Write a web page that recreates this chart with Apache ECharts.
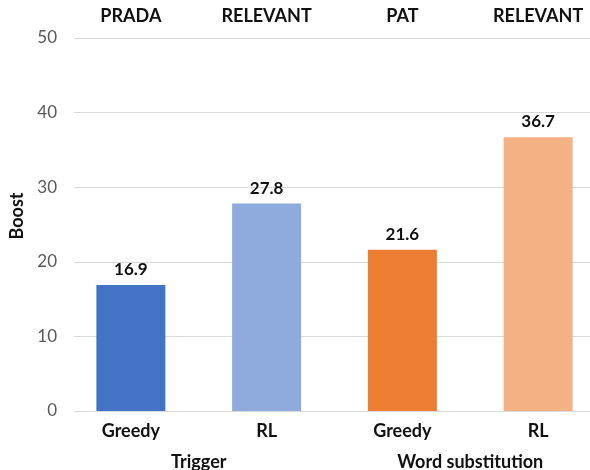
<!DOCTYPE html>
<html>
<head>
<meta charset="utf-8">
<script src="https://cdn.jsdelivr.net/npm/echarts@6/dist/echarts.min.js"></script>
<style>
  html, body { margin: 0; padding: 0; background: #fff; }
  #chart { width: 590px; height: 470px; }
</style>
</head>
<body>
<div id="chart"></div>
<script>
// Boost achieved by each search method, grouped by attack type
const methods = ['Greedy', 'RL', 'Greedy', 'RL'];
const systems = ['PRADA', 'RELEVANT', 'PAT', 'RELEVANT'];
const groups = ['Trigger', 'Word substitution'];
const boost = [16.9, 27.8, 21.6, 36.7];
const barColors = ['#4472C4', '#8FAADC', '#ED7D31', '#F4B183'];
const yTicks = { min: 0, max: 50, interval: 10 };

const FONT = 'Lato';
const chart = echarts.init(document.getElementById('chart'), null, { renderer: 'canvas' });

chart.setOption({
  animation: false,
  backgroundColor: '#ffffff',
  grid: [
    // bar area (category bands extend a little past the right edge)
    { left: 63, width: 543, top: 38, bottom: 59, outerBoundsMode: 'none', containLabel: false },
    // value axis and gridlines
    { left: 74, right: 0, top: 38, bottom: 59, outerBoundsMode: 'none', containLabel: false }
  ],
  xAxis: [
    {
      gridIndex: 0, type: 'category', data: methods, position: 'bottom',
      axisLine: { show: false }, axisTick: { show: false },
      axisLabel: { margin: 11, fontFamily: FONT, fontWeight: 'bold', fontSize: 18, color: '#111' }
    },
    {
      gridIndex: 0, type: 'category', data: systems, position: 'top',
      axisLine: { show: false }, axisTick: { show: false },
      axisLabel: { margin: 13, fontFamily: FONT, fontWeight: 'bold', fontSize: 18, color: '#111' }
    },
    {
      gridIndex: 0, type: 'category', data: groups, position: 'bottom',
      axisLine: { show: false }, axisTick: { show: false },
      axisLabel: { margin: 42, fontFamily: FONT, fontWeight: 'bold', fontSize: 18, color: '#111' }
    },
    {
      gridIndex: 1, type: 'category', data: methods, show: false
    }
  ],
  yAxis: [
    {
      gridIndex: 0, type: 'value', min: yTicks.min, max: yTicks.max, interval: yTicks.interval,
      show: false, splitLine: { show: false }
    },
    {
      gridIndex: 1, type: 'value', min: yTicks.min, max: yTicks.max, interval: yTicks.interval,
      axisLine: { show: false }, axisTick: { show: false },
      axisLabel: { margin: 17, fontFamily: FONT, fontSize: 17, color: '#595959' },
      splitLine: { lineStyle: { color: '#D9D9D9', width: 1 } }
    }
  ],
  graphic: [
    {
      type: 'text', x: 17, y: 216, rotation: Math.PI / 2,
      style: {
        text: 'Boost', fontFamily: FONT, fontWeight: 'bold', fontSize: 18, fill: '#111',
        align: 'center', verticalAlign: 'middle'
      }
    }
  ],
  series: [
    {
      type: 'bar', xAxisIndex: 0, yAxisIndex: 0, barWidth: 69,
      data: boost.map((v, i) => ({ value: v, itemStyle: { color: barColors[i] } })),
      label: {
        show: true, position: 'top', distance: 7,
        fontFamily: FONT, fontWeight: 'bold', fontSize: 17, color: '#111',
        formatter: p => p.value.toFixed(1)
      }
    }
  ]
});
</script>
</body>
</html>
